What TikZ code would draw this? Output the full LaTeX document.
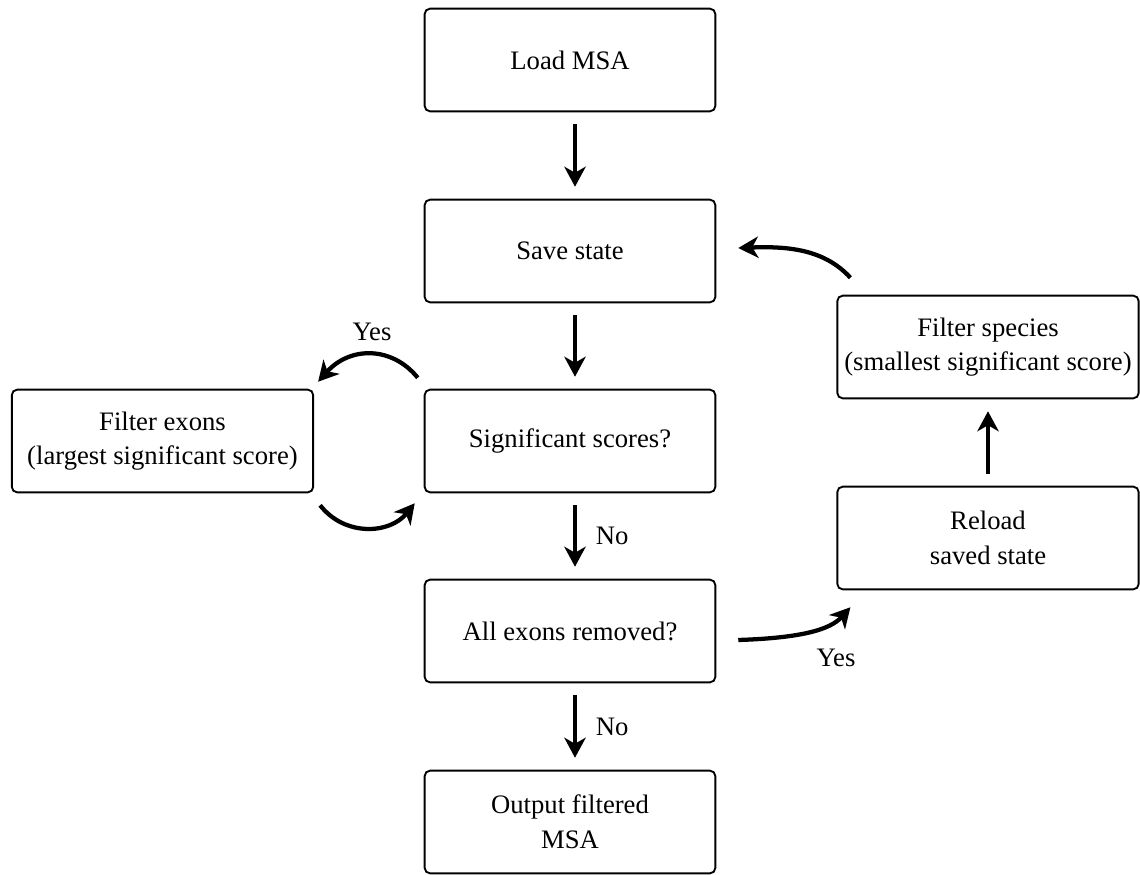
\documentclass[tikz,border=0pt]{standalone}
\usepackage{fontspec}
\setmainfont{Liberation Serif}
\usetikzlibrary{arrows.meta,calc}
\begin{document}
\begin{tikzpicture}[x=0.75pt,y=-0.75pt,
  box/.style={draw,line width=1.4pt,rounded corners=4pt,align=center,font=\fontsize{20pt}{26pt}\selectfont,minimum height=77pt,inner sep=2pt},
  mainbox/.style={box,minimum width=218pt},
  sidebox/.style={box,minimum width=226pt},
  arr/.style={line width=3.2pt,-{Stealth[length=15pt,width=16pt,inset=4.5pt]}},
  lbl/.style={font=\fontsize{20pt}{24pt}\selectfont,inner sep=0pt}]
\useasboundingbox (0,0) rectangle (1140,875);
\node[mainbox] (load) at (570,60) {Load MSA};
\node[mainbox] (save) at (570,251) {Save state};
\node[mainbox] (sig) at (570,441) {Significant scores?};
\node[mainbox] (all) at (570,631) {All exons removed?};
\node[mainbox] (out) at (570,822) {Output filtered\\MSA};
\node[sidebox] (fex) at (162.5,441) {Filter exons\\(largest significant score)};
\node[sidebox] (fsp) at (988,347) {Filter species\\(smallest significant score)};
\node[sidebox] (rel) at (988,538) {Reload\\saved state};

\tikzset{vert/.style={arr,shorten <=9pt,shorten >=9pt}}
\draw[vert] ([xshift=3.75pt]load.south) -- ([xshift=3.75pt]save.north);
\draw[vert] ([xshift=3.75pt]save.south) -- ([xshift=3.75pt]sig.north);
\draw[vert] ([xshift=3.75pt]sig.south) -- ([xshift=3.75pt]all.north) node[lbl,midway,right=14pt] {No};
\draw[vert] ([xshift=3.75pt]all.south) -- ([xshift=3.75pt]out.north) node[lbl,midway,right=14pt] {No};
\draw[vert] (rel) -- (fsp);

\coordinate (a1) at ($(sig.north west)+(-6,-11)$);
\coordinate (a2) at ($(fex.north east)+(4,-7)$);
\draw[arr] (a1) .. controls (392,346) and (350,346) .. (a2);
\node[lbl] (y1) at (372,332) {Yes};

\coordinate (b1) at ($(fex.south east)+(6,12)$);
\coordinate (b2) at ($(sig.south west)+(-9,10)$);
\draw[arr] (b1) .. controls (345,537) and (390,534) .. (b2);

\coordinate (c1) at ($(fsp.north west)+(14,-17)$);
\coordinate (c2) at ($(save.east)+(22,-3)$);
\draw[arr] (c1) .. controls (825,250) and (790,246) .. (c2);

\coordinate (d1) at ($(all.east)+(22,9)$);
\coordinate (d2) at ($(rel.south west)+(14,17)$);
\draw[arr] (d1) .. controls (800,638) and (830,630) .. (d2);
\node[lbl] (y2) at (836,658) {Yes};
\end{tikzpicture}
\end{document}
